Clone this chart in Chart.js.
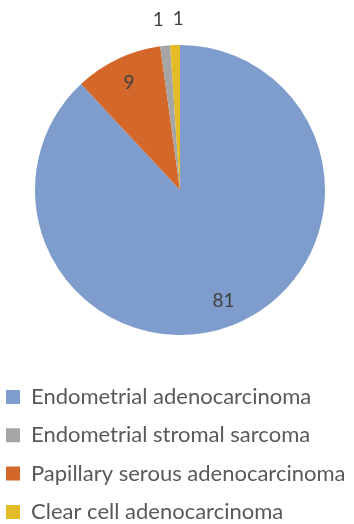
<!DOCTYPE html>
<html>
<head>
<meta charset="utf-8">
<script src="https://cdn.jsdelivr.net/npm/chart.js@4"></script>
<style>
  html, body { margin: 0; padding: 0; background: #ffffff; }
  #wrap { width: 354px; height: 524px; }
</style>
</head>
<body>
<div id="wrap"><canvas id="chart" width="354" height="524"></canvas></div>
<script>
// Slices in drawing order (clockwise from 12 o'clock)
const categories = [
  'Endometrial adenocarcinoma',
  'Papillary serous adenocarcinoma',
  'Endometrial stromal sarcoma',
  'Clear cell adenocarcinoma'
];
const caseCounts = [81, 9, 1, 1];
const sliceColors = ['#7f9dcc', '#d4672a', '#a5a5a5', '#e2bb27'];
// Order in which the legend lists the categories
const legendOrder = [0, 2, 1, 3];

const LEGEND_FONT = 22;
const ROW_STEP = 38.3;
const LEGEND_PAD = ROW_STEP - LEGEND_FONT;

// Nudge the plot area a little to the right of the canvas centre
const plotShift = {
  id: 'plotShift',
  afterLayout(chart) {
    const a = chart.chartArea;
    a.left += 3;
    a.right += 3;
  }
};

// Value labels: inside large slices, outside thin ones, spread apart when crowded
const sliceValueLabels = {
  id: 'sliceValueLabels',
  afterDatasetsDraw(chart) {
    const meta = chart.getDatasetMeta(0);
    const values = chart.data.datasets[0].data;
    const total = values.reduce((a, b) => a + b, 0);
    const ctx = chart.ctx;
    const placed = [];
    meta.data.forEach((arc, i) => {
      const p = arc.getProps(['x', 'y', 'startAngle', 'endAngle', 'outerRadius'], true);
      const mid = (p.startAngle + p.endAngle) / 2;
      const inside = values[i] / total > 0.05;
      const r = p.outerRadius * (inside ? 0.82 : 1.18);
      placed.push({
        text: String(values[i]),
        x: p.x + Math.cos(mid) * r,
        y: p.y + Math.sin(mid) * r,
        inside
      });
    });
    // push neighbouring outside labels apart horizontally
    const outside = placed.filter(l => !l.inside).sort((a, b) => a.x - b.x);
    const minGap = 20;
    for (let k = 1; k < outside.length; k++) {
      const a = outside[k - 1], b = outside[k];
      if (Math.abs(a.y - b.y) < 16 && b.x - a.x < minGap) {
        const shift = (minGap - (b.x - a.x)) / 2;
        a.x -= shift;
        b.x += shift;
      }
    }
    ctx.save();
    ctx.font = '19px Lato';
    ctx.fillStyle = '#404040';
    ctx.textAlign = 'center';
    ctx.textBaseline = 'middle';
    placed.forEach(l => ctx.fillText(l.text, l.x, l.y));
    ctx.restore();
  }
};

new Chart(document.getElementById('chart'), {
  type: 'pie',
  data: {
    labels: categories,
    datasets: [{
      data: caseCounts,
      backgroundColor: sliceColors,
      borderWidth: 0,
      radius: 145
    }]
  },
  options: {
    responsive: false,
    animation: false,
    layout: {
      padding: {
        top: 10.3,
        bottom: -8.9,
        left: 6 - LEGEND_PAD,
        right: 0
      }
    },
    plugins: {
      tooltip: { enabled: false },
      legend: {
        position: 'bottom',
        align: 'start',
        labels: {
          boxWidth: 14,
          boxHeight: 14,
          padding: LEGEND_PAD,
          color: '#595959',
          font: { family: 'Lato', size: LEGEND_FONT },
          sort: (a, b) => legendOrder.indexOf(a.index) - legendOrder.indexOf(b.index)
        }
      }
    }
  },
  plugins: [plotShift, sliceValueLabels]
});
</script>
</body>
</html>
